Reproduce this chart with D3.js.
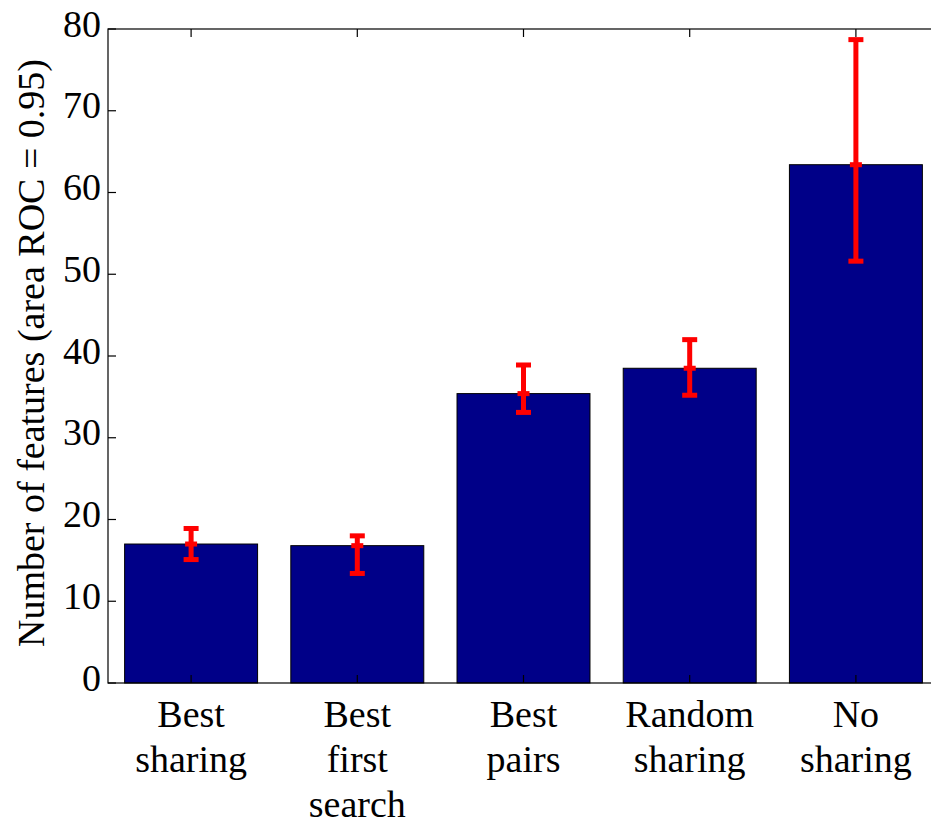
<!DOCTYPE html>
<html>
<head>
<meta charset="utf-8">
<script src="https://cdn.jsdelivr.net/npm/d3@7"></script>
<style>
  html, body { margin: 0; padding: 0; background: #fff; }
  svg { display: block; }
  svg text { font-family: 'Liberation Serif', 'Tinos', 'Times New Roman' !important; }
</style>
</head>
<body>
<svg id="chart" width="931" height="826"></svg>
<script>
// Methods and their multi-line tick labels
const categories = [
  ["Best", "sharing"],
  ["Best", "first", "search"],
  ["Best", "pairs"],
  ["Random", "sharing"],
  ["No", "sharing"]
];
// Mean number of features needed to reach area ROC = 0.95
const means = [17.0, 16.8, 35.4, 38.5, 63.4];
// Lower / upper ends of each error bar
const errLow  = [15.1, 13.4, 33.1, 35.2, 51.6];
const errHigh = [18.9, 18.0, 38.9, 42.0, 78.7];
const yTicks = [0, 10, 20, 30, 40, 50, 60, 70, 80];

const serif = "'Liberation Serif', 'Tinos', 'Times New Roman'";
const svg = d3.select("#chart");
const plot = { left: 108, right: 939, top: 29, bottom: 683 };

const x = d3.scaleLinear().domain([-0.5, categories.length - 0.5]).range([plot.left, plot.right]);
const y = d3.scaleLinear().domain([0, 80]).range([plot.bottom, plot.top]);
const barW = x(0.8) - x(0);
const fontSize = 38;
const tickLen = 8;

// Bars
svg.append("g").selectAll("rect")
  .data(means)
  .join("rect")
  .attr("x", (d, i) => x(i) - barW / 2)
  .attr("y", d => y(d))
  .attr("width", barW)
  .attr("height", d => y(0) - y(d))
  .attr("fill", "#000088")
  .attr("stroke", "#000")
  .attr("stroke-width", 1);

// Error bars
const eb = svg.append("g").attr("fill", "#ff0000");
means.forEach((m, i) => {
  const cx = x(i);
  eb.append("rect")
    .attr("x", cx - 2.5).attr("width", 5)
    .attr("y", y(errHigh[i])).attr("height", y(errLow[i]) - y(errHigh[i]));
  [errLow[i], errHigh[i]].forEach(v => {
    eb.append("rect")
      .attr("x", cx - 7.5).attr("width", 15)
      .attr("y", y(v) - 2.5).attr("height", 5);
  });
  eb.append("rect")
    .attr("x", cx - 6).attr("width", 12)
    .attr("y", y(m) - 2.5).attr("height", 5);
});

// Frame
const frame = svg.append("g").attr("stroke", "#000").attr("stroke-width", 1.2).attr("fill", "none");
frame.append("rect")
  .attr("x", plot.left).attr("y", plot.top)
  .attr("width", plot.right - plot.left).attr("height", plot.bottom - plot.top);

// Y ticks (inward on both sides)
yTicks.forEach(t => {
  const ty = y(t);
  frame.append("line").attr("x1", plot.left).attr("x2", plot.left + tickLen).attr("y1", ty).attr("y2", ty);
  frame.append("line").attr("x1", plot.right).attr("x2", plot.right - tickLen).attr("y1", ty).attr("y2", ty);
});
// X ticks (inward, top and bottom)
categories.forEach((c, i) => {
  const tx = x(i);
  frame.append("line").attr("x1", tx).attr("x2", tx).attr("y1", plot.top).attr("y2", plot.top + tickLen);
  frame.append("line").attr("x1", tx).attr("x2", tx).attr("y1", plot.bottom).attr("y2", plot.bottom - tickLen);
});

// Y tick labels
svg.append("g").selectAll("text")
  .data(yTicks)
  .join("text")
  .attr("x", plot.left - 7)
  .attr("y", d => y(d) + 7.5)
  .attr("text-anchor", "end")
  .style("font-family", serif)
  .attr("font-size", fontSize)
  .text(d => d);

// X tick labels
const xl = svg.append("g");
categories.forEach((lines, i) => {
  const t = xl.append("text")
    .attr("text-anchor", "middle")
    .style("font-family", serif)
    .attr("font-size", fontSize);
  lines.forEach((ln, j) => {
    t.append("tspan")
      .attr("x", x(i))
      .attr("y", 727 + j * 45)
      .text(ln);
  });
});

// Y axis title
svg.append("text")
  .attr("transform", `translate(44, ${(plot.top + plot.bottom) / 2 - 3}) rotate(-90)`)
  .attr("text-anchor", "middle")
  .style("font-family", serif)
  .attr("font-size", fontSize)
  .text("Number of features (area ROC = 0.95)");
</script>
</body>
</html>
